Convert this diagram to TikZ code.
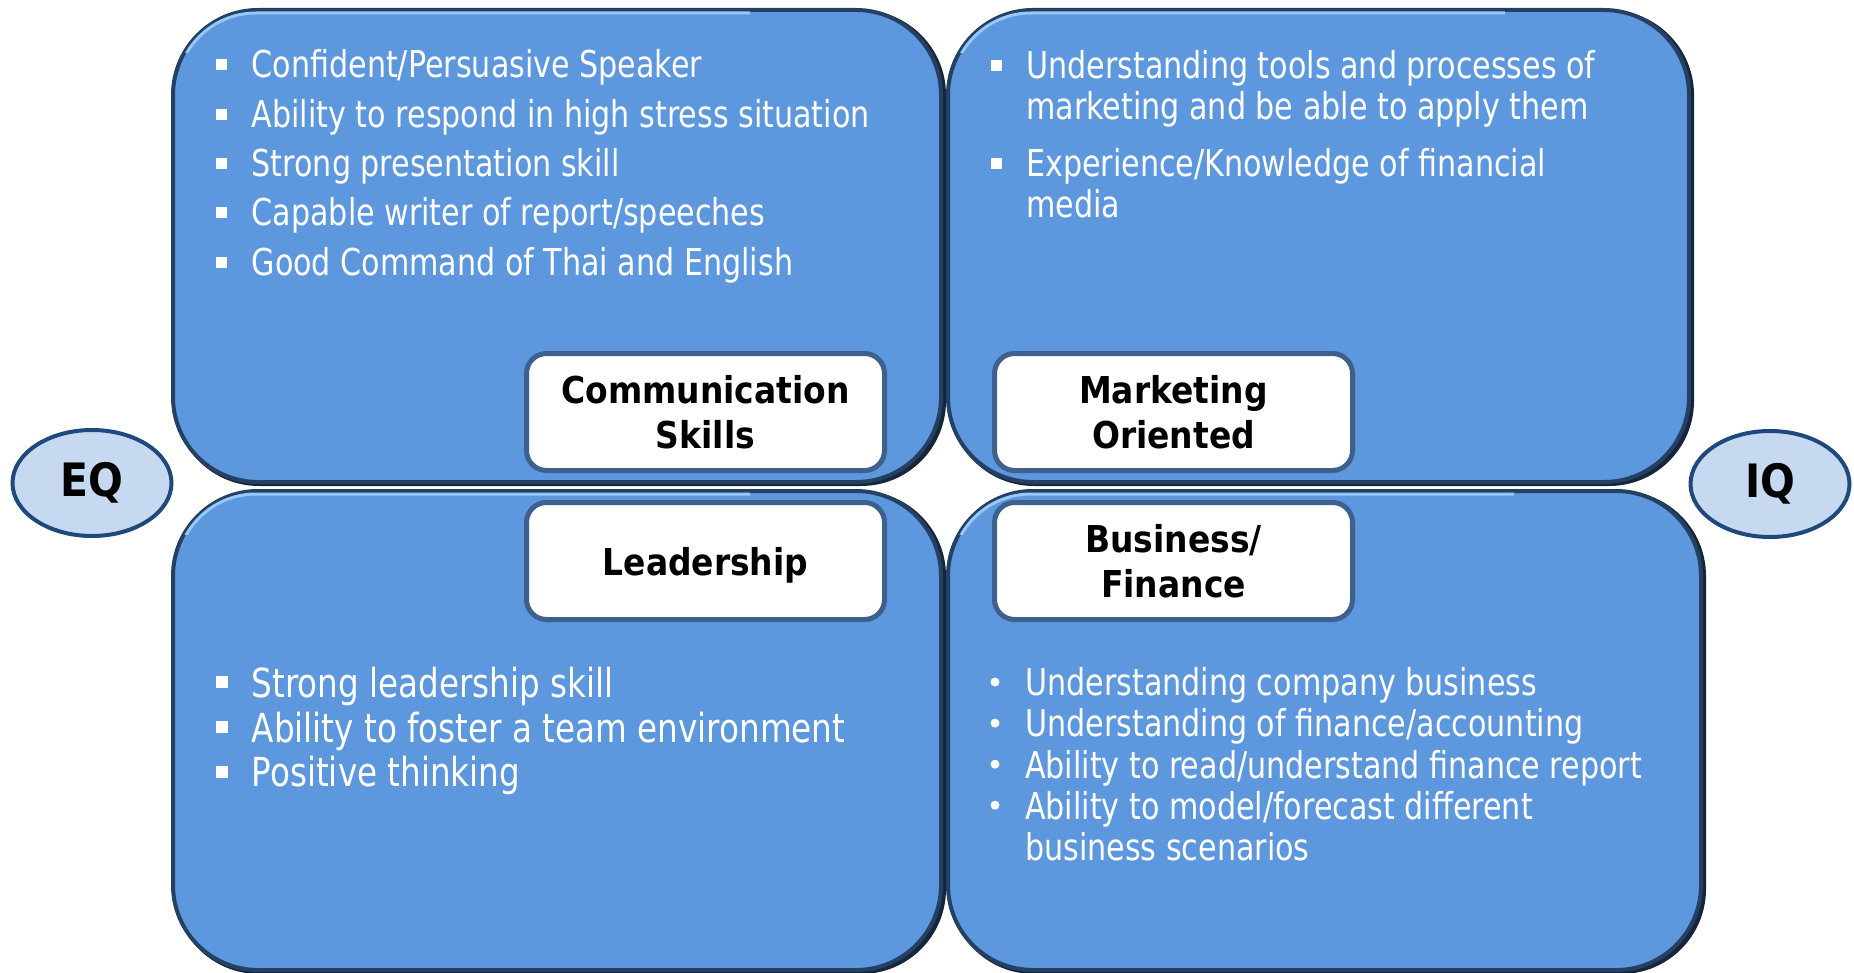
\documentclass[tikz,border=0pt]{standalone}
\usepackage{fontspec}
\setmainfont{DejaVu Sans}[FakeStretch=0.815]
\newfontfamily\lblfont{DejaVu Sans}[FakeStretch=0.89]
\usetikzlibrary{calc,shapes.geometric}
\pgfdeclarelayer{background}
\pgfsetlayers{background,main}
\definecolor{boxfill}{RGB}{93,152,223}
\definecolor{boxedge}{RGB}{36,64,98}
\definecolor{boxshadow}{RGB}{22,38,58}
\definecolor{boxhl}{RGB}{150,200,250}
\definecolor{lbledge}{RGB}{62,96,140}
\definecolor{ellfill}{RGB}{198,217,241}
\definecolor{elledge}{RGB}{31,73,125}
\tikzset{
  bigbox/.style={draw=boxedge, line width=4pt, fill=boxfill, rounded corners=85pt, inner sep=0pt},
  shadowfill/.style={fill=boxshadow, rounded corners=85pt},
  hl/.style={draw=boxhl, line width=3pt},
  lbl/.style={draw=lbledge, line width=5pt, fill=white, rounded corners=20pt,
    minimum width=358, minimum height=117, align=center, inner sep=0pt,
    font=\lblfont\bfseries\fontsize{37}{45}\selectfont},
  ellbox/.style={ellipse, draw=elledge, line width=4pt, fill=ellfill, inner sep=0pt,
    minimum width=159, minimum height=106,
    font=\lblfont\bfseries\fontsize{46}{50}\selectfont},
  body/.style={anchor=base west, inner sep=0pt, text=white, font=\fontsize{37}{44}\selectfont},
  bodyL/.style={anchor=base west, inner sep=0pt, text=white, font=\fontsize{40}{46}\selectfont},
}
\begin{document}
\begin{tikzpicture}[x=1pt,y=-1pt]
\useasboundingbox (0,0) rectangle (1854,973);

% big boxes
\node[bigbox, minimum width=768, minimum height=472] (tlbox) at (557,246) {};
\node[bigbox, minimum width=741, minimum height=472] (trbox) at (1318.5,246) {};
\node[bigbox, minimum width=768, minimum height=479] (blbox) at (557,730.5) {};
\node[bigbox, minimum width=753, minimum height=479] (brbox) at (1324.5,730.5) {};

\foreach \b in {tlbox,trbox,blbox,brbox}{
  \begin{pgfonlayer}{background}
    \fill[shadowfill] ([xshift=3pt,yshift=-2pt]\b.north west) rectangle ([xshift=3pt,yshift=-2pt]\b.south east);
  \end{pgfonlayer}
  \begin{scope}
    \clip ([yshift=3pt]\b.north west) rectangle ($(\b.north west)!0.75!(\b.north east)+(0,45)$);
    \draw[hl, rounded corners=80pt] ([xshift=5pt,yshift=-5pt]\b.north west) rectangle ([xshift=-5pt,yshift=5pt]\b.south east);
  \end{scope}
}

% ellipses
\node[ellbox] (eq) at (92,483) {EQ};
\node[ellbox] (iq) at (1770,484) {IQ};

% label boxes
\node[lbl] (comm) at (705.5,412) {Communication\\Skills};
\node[lbl] (mkt) at (1173.5,412) {Marketing\\Oriented};
\node[lbl, text depth=0pt] (lead) at (705.5,561) {Leadership};
\node[lbl] (bus) at (1173.5,561) {Business/\\Finance};

% top-left list
\foreach \t [count=\i] in {Confident/Persuasive Speaker, Ability to respond in high stress situation, Strong presentation skill, Capable writer of report/speeches, Good Command of Thai and English}
  \node[body] (tl\i) at (251.5,{78+49.3*(\i-1)}) {\t};
\foreach \i in {1,...,5}
  \fill[white] ([xshift=-35.5pt,yshift=7.5pt]tl\i.base west) rectangle ++(11pt,11pt);

% top-right list
\node[body] (tr1) at (1026,78.5) {Understanding tools and processes of};
\node[body] (tr2) at (1026,120) {marketing and be able to apply them};
\node[body] (tr3) at (1026,176.7) {Experience/Knowledge of financial};
\node[body] (tr4) at (1026,218) {media};
\foreach \i in {1,3}
  \fill[white] ([xshift=-35pt,yshift=7.5pt]tr\i.base west) rectangle ++(11pt,11pt);

% bottom-left list
\node[bodyL] (bl1) at (251.5,697) {Strong leadership skill};
\node[bodyL] (bl2) at (251.5,742) {Ability to foster a team environment};
\node[bodyL] (bl3) at (251.5,786.6) {Positive thinking};
\foreach \i in {1,2,3}
  \fill[white] ([xshift=-36pt,yshift=9pt]bl\i.base west) rectangle ++(12pt,12pt);

% bottom-right list
\node[body] (br1) at (1025,695.8) {Understanding company business};
\node[body] (br2) at (1025,736.9) {Understanding of finance/accounting};
\node[body] (br3) at (1025,778) {Ability to read/understand finance report};
\node[body] (br4) at (1025,819) {Ability to model/forecast different};
\node[body] (br5) at (1025,860) {business scenarios};
\foreach \i in {1,2,3,4}
  \fill[white] ([xshift=-30pt,yshift=13.8pt]br\i.base west) circle (4.5pt);
\end{tikzpicture}
\end{document}
